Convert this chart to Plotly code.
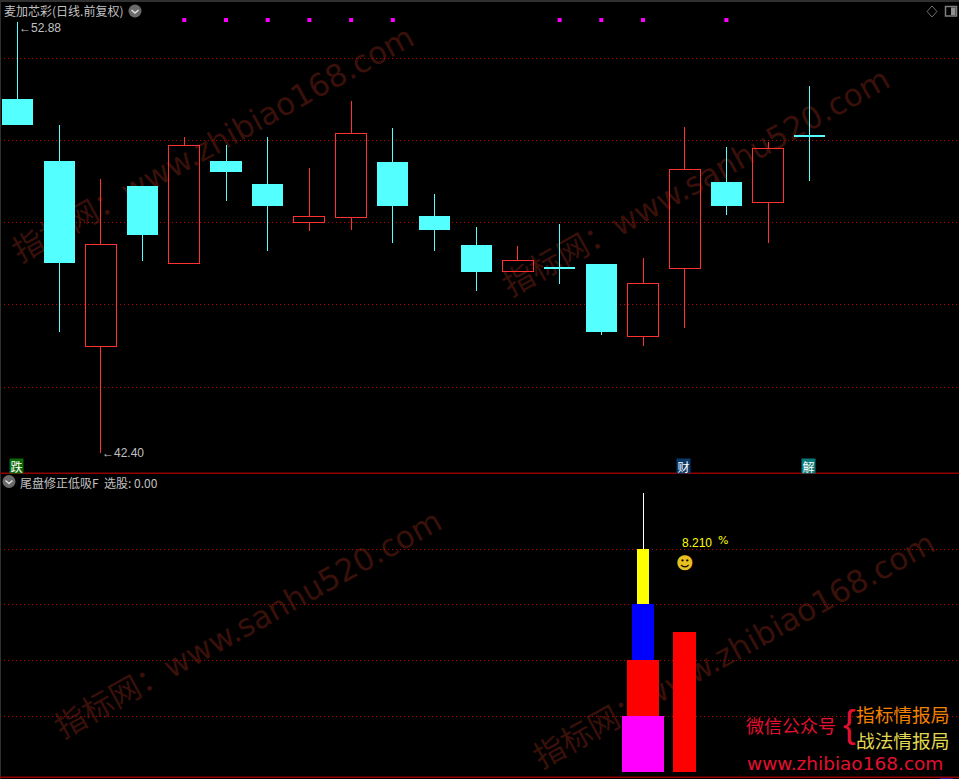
import plotly.graph_objects as go

W, H = 959, 779

# ---------- data ----------
days = list(range(20))
open_ = [51.01, 49.50, 44.98, 48.89, 47.00, 49.50, 48.94, 48.00, 48.12, 49.48,
         48.16, 47.46, 46.81, 46.90, 47.00, 45.23, 46.88, 48.99, 48.49, 50.12]
close = [50.38, 47.02, 47.48, 47.70, 49.87, 49.23, 48.41, 48.14, 50.16, 48.41,
         47.82, 46.80, 47.09, 46.88, 45.34, 46.53, 49.30, 48.41, 49.81, 50.09]
high = [52.88, 50.38, 49.06, 48.89, 50.09, 49.89, 50.09, 49.33, 50.96, 50.30,
        48.70, 47.90, 47.43, 47.97, 47.00, 47.14, 50.33, 49.84, 49.96, 51.33]
low = [50.38, 45.35, 42.40, 47.07, 47.00, 48.53, 47.31, 47.80, 47.82, 47.51,
       47.31, 46.34, 46.81, 46.51, 45.27, 45.00, 45.45, 48.19, 47.51, 49.01]
signal_days = [4, 5, 6, 7, 8, 9, 13, 14, 15, 17]
signal_level = 52.93
price_grid = [52, 50, 48, 46, 44]

tier_day = 15
tier_bottom = [0, 2.02, 4.02, 6.02]
tier_top = [2.02, 4.02, 6.02, 8]
tier_colors = ["#ff00ff", "#ff0000", "#0000ff", "#ffff00"]
tier_widths = [1.03, 0.79, 0.55, 0.31]
tier_stem = [8, 10]
side_day = 16
side_value = 5.03
pct_value = 8.21
smile_value = 7.5
lower_grid = [2, 4, 6, 8]

CYAN = "#54ffff"
RED = "#ff3232"
GREY = "#c0c0c0"
GRID = "#c00000"
CJK = "Noto Sans CJK SC"


def px(x):
    return x / W


def py(y):
    return 1 - y / H


def split(idx):
    """Wick pieces above and below the body, for the given candles."""
    xs, ys = [], []
    for i in idx:
        top, bot = max(open_[i], close[i]), min(open_[i], close[i])
        if high[i] > top:
            xs += [days[i], days[i], None]
            ys += [top, high[i], None]
        if low[i] < bot:
            xs += [days[i], days[i], None]
            ys += [bot, low[i], None]
    return xs, ys


up = [i for i in days if close[i] > open_[i]]
down = [i for i in days if close[i] <= open_[i]]

fig = go.Figure()

# bodies
fig.add_trace(go.Bar(
    x=[days[i] for i in down],
    y=[abs(open_[i] - close[i]) for i in down],
    base=[min(open_[i], close[i]) for i in down],
    width=0.745, marker=dict(color=CYAN, line=dict(width=0)), xaxis="x", yaxis="y"))
fig.add_trace(go.Bar(
    x=[days[i] for i in up],
    y=[abs(open_[i] - close[i]) for i in up],
    base=[min(open_[i], close[i]) for i in up],
    width=0.74, marker=dict(color="rgba(0,0,0,0)", line=dict(width=1, color=RED)),
    xaxis="x", yaxis="y"))
# wicks
for idx, col in ((down, CYAN), (up, RED)):
    wx, wy = split(idx)
    fig.add_trace(go.Scatter(x=wx, y=wy, mode="lines", line=dict(color=col, width=1),
                             xaxis="x", yaxis="y"))
# signal markers
fig.add_trace(go.Scatter(x=signal_days, y=[signal_level] * len(signal_days), mode="markers",
                         marker=dict(symbol="square", size=4, color="#ff00ff", line=dict(width=0)),
                         xaxis="x", yaxis="y"))

# lower panel
fig.add_trace(go.Bar(x=[tier_day] * len(tier_top),
                     y=[t - b for t, b in zip(tier_top, tier_bottom)], base=tier_bottom,
                     width=tier_widths, marker=dict(color=tier_colors, line=dict(width=0)),
                     xaxis="x2", yaxis="y2"))
fig.add_trace(go.Bar(x=[side_day], y=[side_value], width=0.55,
                     marker=dict(color="#ff0000", line=dict(width=0)), xaxis="x2", yaxis="y2"))
fig.add_trace(go.Scatter(x=[tier_day, tier_day], y=tier_stem, mode="lines",
                         line=dict(color="#ffffff", width=1), xaxis="x2", yaxis="y2"))

x_range = [-0.42, 22.578]
xa = dict(range=x_range, showgrid=False, zeroline=False, showticklabels=False,
          ticks="", showline=False, fixedrange=True)
ya = dict(showgrid=True, griddash="1px,3px", gridcolor=GRID, gridwidth=1, zeroline=False,
          showticklabels=False, ticks="", showline=False, fixedrange=True)

top_h = 473 / H
fig.update_layout(
    width=W, height=H, margin=dict(l=0, r=0, t=0, b=0), autosize=False,
    paper_bgcolor="#000000", plot_bgcolor="rgba(0,0,0,0)", showlegend=False,
    barmode="overlay", hovermode=False,
    xaxis=dict(xa, domain=[0, 1], anchor="y"),
    xaxis2=dict(xa, domain=[0, 1], anchor="y2"),
    yaxis=dict(ya, domain=[1 - top_h, 1], range=[41.91, 53.418], tickvals=price_grid, anchor="x"),
    yaxis2=dict(ya, domain=[0, 1 - top_h], range=[-0.233, 10.727], tickvals=lower_grid, anchor="x2"),
)

shapes = []


def wm(text, cx, cy, angle):
    shapes.append(dict(
        type="rect", xref="paper", yref="paper", layer="below",
        x0=px(cx - 250), x1=px(cx + 250), y0=py(cy + 30), y1=py(cy - 30),
        line=dict(width=0), fillcolor="rgba(0,0,0,0)",
        label=dict(text=text, textangle=angle, textposition="middle center",
                   font=dict(family="DejaVu Sans, " + CJK, size=31, color="#3a100a"))))


wm("指标网：www.zhibiao168.com", 212, 142, -29)
wm("指标网：www.sanhu520.com", 695, 180, -29)
wm("指标网：www.sanhu520.com", 247, 622, -29)
wm("指标网：www.zhibiao168.com", 733, 648, -29)


def rect(x0, y0, x1, y1, fill=None, line=None, lw=1):
    shapes.append(dict(type="rect", xref="paper", yref="paper",
                       x0=px(x0), x1=px(x1), y0=py(y1), y1=py(y0),
                       fillcolor=fill or "rgba(0,0,0,0)",
                       line=dict(width=lw if line else 0, color=line or "rgba(0,0,0,0)")))


def path(points, fill=None, line=None, lw=1, close=False):
    d = "M" + " L".join(f"{px(a):.5f},{py(b):.5f}" for a, b in points) + (" Z" if close else "")
    shapes.append(dict(type="path", xref="paper", yref="paper", path=d,
                       fillcolor=fill or "rgba(0,0,0,0)",
                       line=dict(width=lw if line else 0, color=line or "rgba(0,0,0,0)")))


def button(cx, cy):
    shapes.append(dict(type="circle", xref="paper", yref="paper",
                       x0=px(cx - 6.5), x1=px(cx + 6.5), y0=py(cy + 6.5), y1=py(cy - 6.5),
                       fillcolor="#6a6a6a", line=dict(width=0)))
    path([(cx - 3.5, cy - 1), (cx, cy + 2), (cx + 3.5, cy - 1)], line="#e0e0e0", lw=1.5)


# frame
rect(0, 0, W, 2, fill="#303030")
rect(0, 0, 1, H, fill="#303030")
rect(0, 472.5, W, 474, fill="#8f0000")
rect(0, 776.5, W, 778, fill="#8f0000")
rect(940, 778, 953, 779, fill="#1a1a90")
button(135, 11)
button(9, 481.5)
path([(932, 6), (937, 11.5), (932, 17), (927, 11.5)], line="#707070", close=True)
rect(945.5, 6.5, 956.5, 16, line="#808080", lw=1.5)
rect(951, 7.5, 955.5, 15, fill="#909090")
fig.update_layout(shapes=shapes)


def note(text, x, y, color=GREY, size=12, anchor="left", family=CJK, xref="paper", yref="paper",
         **kw):
    fig.add_annotation(text=text, x=x, y=y, xref=xref, yref=yref, showarrow=False,
                       xanchor=anchor, yanchor="middle",
                       font=dict(color=color, size=size, family=family),
                       borderpad=0, **kw)


note("麦加芯彩(日线.前复权)", px(3), py(10.5), size=12)
note("尾盘修正低吸F  选股: 0.00", px(19), py(482), size=12)
note("←52.88", 0, high[0] - 0.14, size=12, family="Liberation Sans, DejaVu Sans", xref="x", yref="y",
     xshift=0)
note("←42.40", days[2], low[2], size=12, family="Liberation Sans, DejaVu Sans", xref="x", yref="y")
note(f"{pct_value:.3f}", 16, pct_value, color="#ffff00", size=12, family="Liberation Sans",
     xref="x2", yref="y2", xshift=-4)
note("%", px(717), py(540), color="#ffff00", size=11, family="DejaVu Sans")
note("☻", 16, smile_value, color="#e8c020", size=17, anchor="center", family="DejaVu Sans",
     xref="x2", yref="y2")

for ch, cx, bg in (("跌", 16.5, "#0a6a0a"), ("财", 683, "#0a3a6a"), ("解", 808.5, "#0a7a7a")):
    fig.add_annotation(text=ch, x=px(cx), y=py(466), xref="paper", yref="paper", showarrow=False,
                       xanchor="center", yanchor="middle",
                       font=dict(color="#ffffff", size=12, family=CJK), bgcolor=bg, borderpad=0,
                       height=14, width=13)

note("微信公众号", px(745), py(725), color="#e01030", size=18)
note("{", px(842), py(724), color="#e01030", size=38, family="Liberation Sans")
note("指标情报局", px(855), py(713.5), color="#f08000", size=18.7)
note("战法情报局", px(855), py(739), color="#e0d850", size=18.7)
note("www.zhibiao168.com", px(746), py(763), color="#e01030", size=18.5, family="DejaVu Sans")

css = (".scatterlayer .js-line,.bars path{shape-rendering:crispEdges}"
       "html,body{margin:0;padding:0;background:#000;overflow:hidden}")
post = ("var s=document.createElement('style');s.textContent=" + repr(css) +
        ";document.head.appendChild(s);")
fig.write_html("out.html", post_script=post, config=dict(displayModeBar=False))
